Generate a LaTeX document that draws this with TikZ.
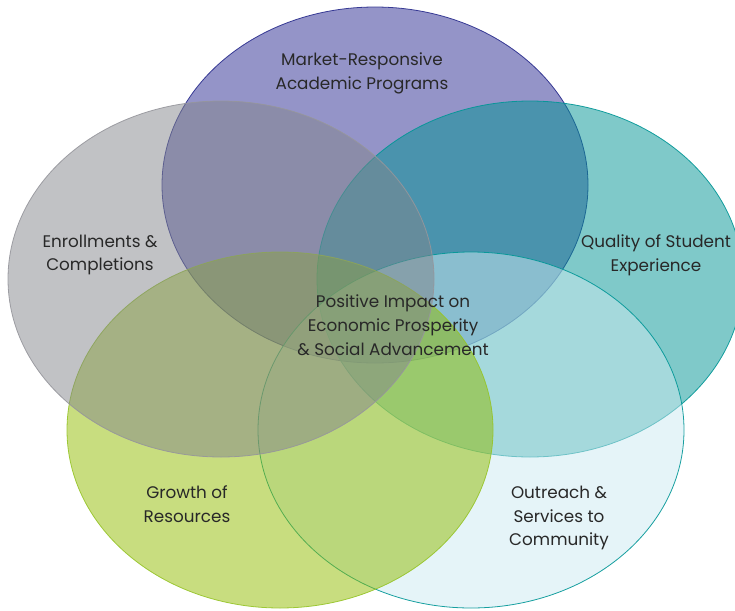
\documentclass[tikz,border=0pt]{standalone}
\usepackage{fontspec}
\setmainfont{Poppins}
\usetikzlibrary{shapes.geometric}

% base fills (shown at half opacity) and rims
\definecolor{setpurple}{RGB}{42,42,146}
\definecolor{rimpurple}{RGB}{40,44,140}
\definecolor{setgray}{RGB}{131,133,139}
\definecolor{rimgray}{RGB}{150,150,156}
\definecolor{setteal}{RGB}{0,147,147}
\definecolor{rimteal}{RGB}{0,150,150}
\definecolor{setsky}{RGB}{203,233,241}
\definecolor{rimsky}{RGB}{0,150,150}
\definecolor{setgreen}{RGB}{145,187,0}
\definecolor{rimgreen}{RGB}{150,196,40}
\definecolor{labelink}{RGB}{40,40,40}

\tikzset{
  vennset/.style={ellipse, minimum width=426pt, minimum height=356pt,
    inner sep=0pt, line width=0.8pt, fill opacity=0.5, draw opacity=0.9},
  setlabel/.style={align=center, text=labelink, font=\fontsize{16.8}{23.8}\selectfont,
    inner sep=0pt}
}

\begin{document}
\begin{tikzpicture}[x=1pt,y=-1pt]
  \useasboundingbox (0,0) rectangle (735,610);

  % the five overlapping sets, drawn clockwise from the top
  \node[vennset, fill=setpurple, draw=rimpurple] (market)   at (375,185) {};
  \node[vennset, fill=setteal,   draw=rimteal]   (quality)  at (530,279) {};
  \node[vennset, fill=setsky,    draw=rimsky]    (outreach) at (471,430) {};
  \node[vennset, fill=setgreen,  draw=rimgreen]  (growth)   at (280,430) {};
  \node[vennset, fill=setgray,   draw=rimgray]   (enroll)   at (221,279) {};

  % labels
  \node[setlabel] (marketlbl)   at (362,73)  {Market-Responsive\\Academic Programs};
  \node[setlabel] (enrolllbl)   at (100,255) {Enrollments \&\\Completions};
  \node[setlabel] (qualitylbl)  at (656,255) {Quality of Student\\Experience};
  \node[setlabel] (centerlbl)   at (393,325) {Positive Impact on\\Economic Prosperity\\\& Social Advancement};
  \node[setlabel] (growthlbl)   at (187,504) {Growth of\\Resources};
  \node[setlabel] (outreachlbl) at (559,518) {Outreach \&\\Services to\\Community};
\end{tikzpicture}
\end{document}
